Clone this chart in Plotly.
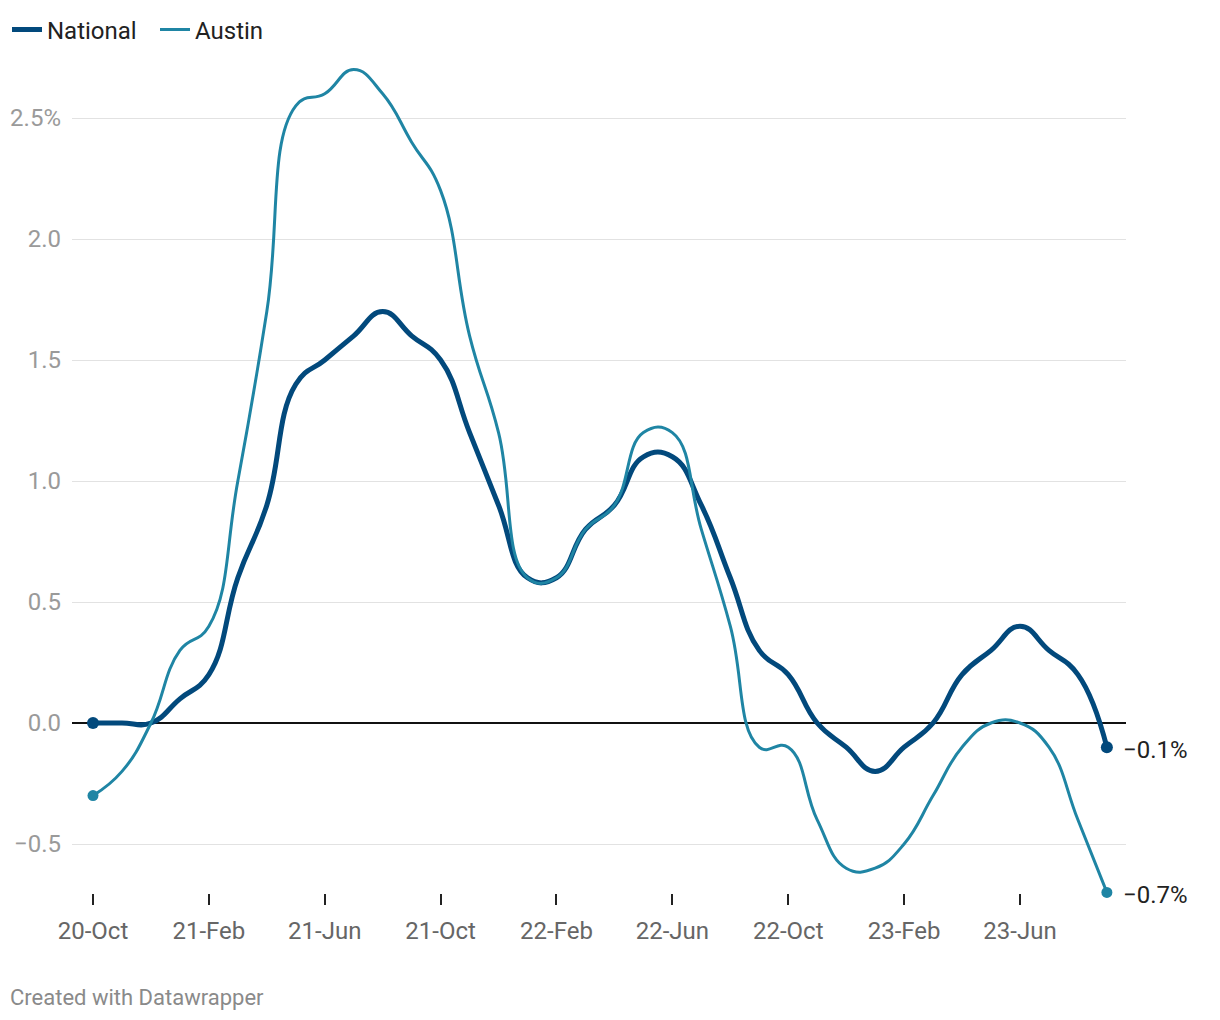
import plotly.graph_objects as go

months = ["20-Oct", "20-Nov", "20-Dec", "21-Jan", "21-Feb", "21-Mar", "21-Apr", "21-May",
          "21-Jun", "21-Jul", "21-Aug", "21-Sep", "21-Oct", "21-Nov", "21-Dec", "22-Jan",
          "22-Feb", "22-Mar", "22-Apr", "22-May", "22-Jun", "22-Jul", "22-Aug", "22-Sep",
          "22-Oct", "22-Nov", "22-Dec", "23-Jan", "23-Feb", "23-Mar", "23-Apr", "23-May",
          "23-Jun", "23-Jul", "23-Aug", "23-Sep"]

national = [0.0, 0.0, 0.0, 0.1, 0.2, 0.6, 0.9, 1.4, 1.5, 1.6, 1.7, 1.6,
            1.5, 1.2, 0.9, 0.6, 0.6, 0.8, 0.9, 1.1, 1.1, 0.9, 0.6, 0.3,
            0.2, 0.0, -0.1, -0.2, -0.1, 0.0, 0.2, 0.3, 0.4, 0.3, 0.2, -0.1]

austin = [-0.3, -0.2, 0.0, 0.3, 0.4, 1.0, 1.7, 2.55, 2.6, 2.7, 2.6, 2.4,
          2.2, 1.6, 1.2, 0.6, 0.6, 0.8, 0.9, 1.2, 1.2, 0.8, 0.4, -0.1,
          -0.1, -0.4, -0.6, -0.6, -0.5, -0.3, -0.1, 0.0, 0.0, -0.1, -0.4, -0.7]

tick_months = ["20-Oct", "21-Feb", "21-Jun", "21-Oct", "22-Feb", "22-Jun", "22-Oct", "23-Feb", "23-Jun"]
y_ticks = [-0.5, 0.0, 0.5, 1.0, 1.5, 2.0, 2.5]
y_tick_text = ["\u22120.5", "0.0", "0.5", "1.0", "1.5", "2.0", "2.5%"]

NAT_COLOR = "#02497c"
AUS_COLOR = "#1f85a4"
FONT = "Roboto, 'Noto Sans', Arial, sans-serif"

x = list(range(len(months)))
tick_idx = [months.index(m) for m in tick_months]

fig = go.Figure()

fig.add_trace(go.Scatter(
    x=x, y=national, name="National", mode="lines",
    line=dict(color=NAT_COLOR, width=5, shape="spline", smoothing=1.3),
    cliponaxis=False,
))
fig.add_trace(go.Scatter(
    x=x, y=austin, name="Austin", mode="lines",
    line=dict(color=AUS_COLOR, width=3, shape="spline", smoothing=1.3),
    cliponaxis=False,
))
# end-point dots
fig.add_trace(go.Scatter(
    x=[x[0], x[-1]], y=[national[0], national[-1]], mode="markers",
    marker=dict(color=NAT_COLOR, size=12), showlegend=False, cliponaxis=False,
))
fig.add_trace(go.Scatter(
    x=[x[0], x[-1]], y=[austin[0], austin[-1]], mode="markers",
    marker=dict(color=AUS_COLOR, size=11), showlegend=False, cliponaxis=False,
))

def fmt(v):
    s = f"{v:.1f}%"
    return s.replace("-", "\u2212")

for series in (national, austin):
    fig.add_annotation(
        x=x[-1], y=series[-1], text=fmt(series[-1]), showarrow=False,
        xanchor="left", yanchor="middle", xshift=14, yshift=-3,
        font=dict(family=FONT, size=24, color="#222222"),
    )

fig.add_annotation(
    xref="paper", yref="paper", x=0, y=0, xshift=-64, yshift=-104,
    xanchor="left", yanchor="middle", text="Created with Datawrapper", showarrow=False,
    font=dict(family=FONT, size=22, color="#8a8a8a"),
)

fig.update_layout(
    width=1220, height=1020,
    margin=dict(l=72, r=94, t=60, b=127, autoexpand=False),
    paper_bgcolor="white", plot_bgcolor="white",
    font=dict(family=FONT, size=24, color="#222222"),
    showlegend=True,
    legend=dict(
        orientation="h", xref="container", yref="container",
        x=7 / 1220, y=1 - 30 / 1020, xanchor="left", yanchor="middle",
        font=dict(family=FONT, size=24, color="#222222"),
        itemwidth=30, tracegroupgap=0, bgcolor="rgba(0,0,0,0)",
        entrywidth=103, entrywidthmode="pixels",
    ),
    xaxis=dict(
        range=[-0.725, 35.66], tickmode="array", tickvals=tick_idx, ticktext=tick_months,
        showgrid=False, zeroline=False, showline=False,
        ticks="outside", ticklen=11, tickwidth=2, tickcolor="#222222",
        tickfont=dict(family=FONT, size=24, color="#666666"),
        ticklabelstandoff=5, fixedrange=True,
    ),
    yaxis=dict(
        range=[-(893 - 723) / 242, (723 - 60) / 242],
        tickmode="array", tickvals=y_ticks, ticktext=y_tick_text,
        showgrid=True, gridcolor="#e2e2e2", gridwidth=1,
        zeroline=True, zerolinecolor="#111111", zerolinewidth=1.5,
        showline=False, ticks="",
        tickfont=dict(family=FONT, size=24, color="#9a9a9a"),
        ticklabelstandoff=10, fixedrange=True,
    ),
)

fig.write_html("out.html")
